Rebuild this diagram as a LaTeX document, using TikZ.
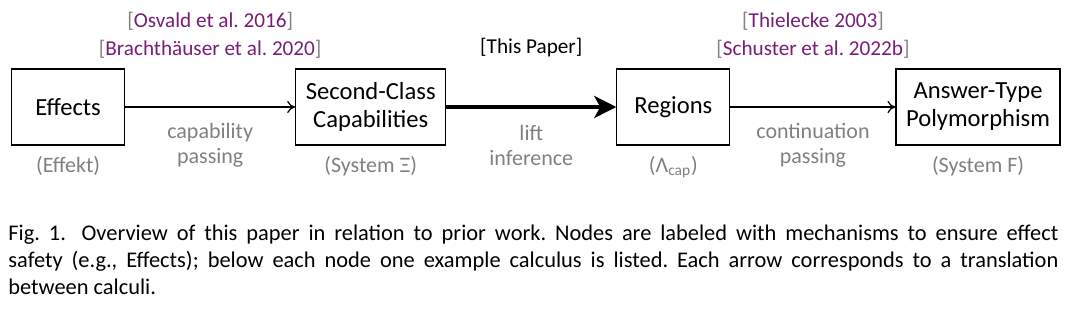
\documentclass[tikz,border=0pt]{standalone}
\usepackage{fontspec}
\setmainfont{Carlito}
\usetikzlibrary{positioning, arrows.meta}

\definecolor{citepurple}{RGB}{120,30,120}
\definecolor{labelgray}{RGB}{128,128,128}
\newcommand{\citeref}[1]{{\color{labelgray}[}{\color{citepurple}#1}{\color{labelgray}]}}

\begin{document}
\frenchspacing
\begin{tikzpicture}[x=0.5pt, y=-0.5pt, node distance=85pt,
    every node/.style={font=\fontsize{11}{14}\selectfont},
    box/.style={rectangle, draw, line width=0.6pt, minimum width=56.5pt, minimum height=38pt, align=center, inner sep=5pt,
      font=\fontsize{12.3}{14}\selectfont},
    calculus/.style={text=labelgray, inner sep=0pt},
    trans/.style={text=labelgray, align=center, inner sep=0pt, font=\fontsize{11}{12.5}\selectfont},
    refs/.style={align=center, inner sep=0pt, font=\fontsize{10.6}{14}\selectfont},
    arrow/.style={-{To[length=4pt, width=6pt]}, line width=0.6pt},
    bigarrow/.style={-{Stealth[length=11pt, width=11pt, inset=3pt]}, line width=2.2pt}]

  \useasboundingbox (0,0) rectangle (1071,318);

  % nodes
  \node[box, anchor=west] (eff) at (11,107) {Effects};
  \node[box, right=of eff] (scc) {Second-Class\\Capabilities};
  \node[box, right=of scc] (reg) {Regions};
  \node[box, right=82.5pt of reg, minimum width=81pt] (atp) {Answer-Type\\Polymorphism};

  % example calculi
  \node[calculus, below=5pt of eff] (effekt) {(Effekt)};
  \node[calculus, below=5pt of scc] (sysxi) {(System Ξ)};
  \node[calculus, below=5pt of reg] (lcap) {(Λ\textsubscript{cap})};
  \node[calculus, below=5pt of atp] (sysf) {(System F)};

  % translations
  \draw[arrow] (eff) -- node[trans, below=8pt] (capp) {capability\\passing}
    node[refs, above=24pt] (prev1) {\citeref{Osvald et al. 2016}\\\citeref{Brachthäuser et al. 2020}} (scc);
  \draw[bigarrow] (scc) -- node[trans, below=8pt] (lift) {lift\\inference}
    node[refs, above=24pt] (this) {[This Paper]} (reg);
  \draw[arrow] (reg) -- node[trans, below=8pt] (cps) {continuation\\passing}
    node[refs, above=24pt] (prev2) {\citeref{Thielecke 2003}\\\citeref{Schuster et al. 2022b}} (atp);

  % caption
  \node[anchor=north west, text width=525pt, align=justify, inner sep=0pt,
    font=\fontsize{11.2}{13.5}\selectfont] (caption) at (8,225)
    {Fig. 1.\hspace{0.7em}Overview of this paper in relation to prior work. Nodes are labeled with mechanisms to ensure effect\linebreak
     safety (e.g., Effects); below each node one example calculus is listed. Each arrow corresponds to a translation\linebreak
     between calculi.};
\end{tikzpicture}
\end{document}
